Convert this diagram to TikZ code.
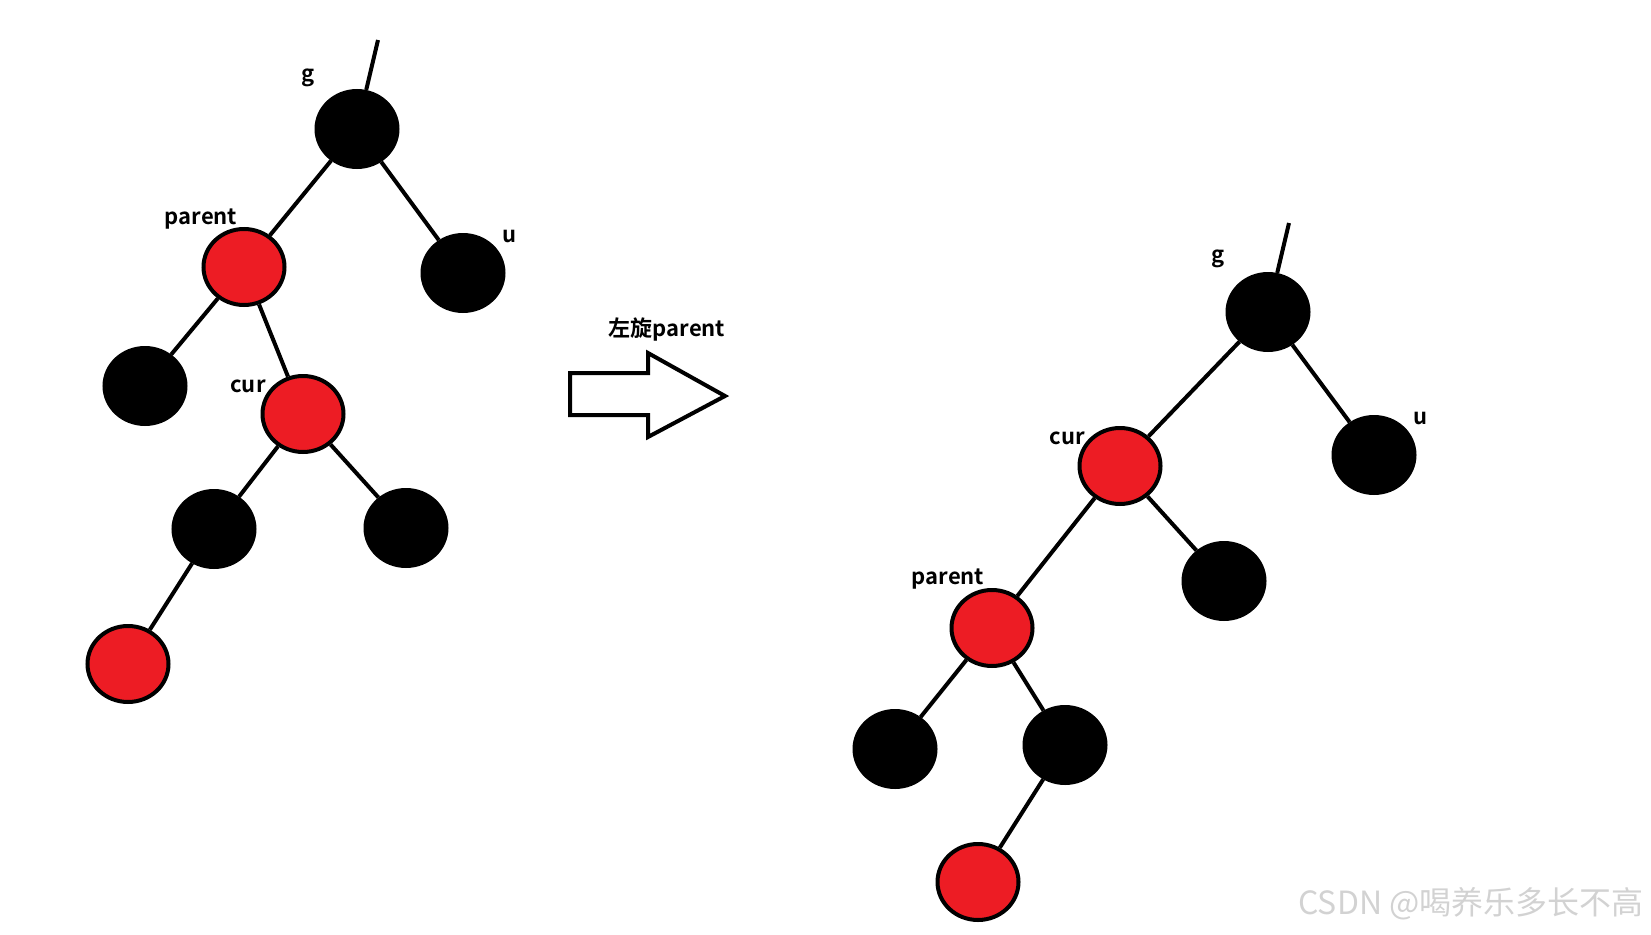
\documentclass[tikz,border=0pt]{standalone}
\usepackage{fontspec}
\setsansfont{Noto Sans CJK SC}[BoldFont={Noto Sans CJK SC Bold}]
\usepackage{tikz}
\usetikzlibrary{shapes.geometric}
\definecolor{rbred}{HTML}{ED1C24}
\definecolor{wmgray}{HTML}{D2D2D2}

\begin{document}
\begin{tikzpicture}[x=1pt, y=-1pt,
  rnd/.style={ellipse, draw=black, line width=4pt, fill=rbred,
              minimum width=81pt, minimum height=76pt, inner sep=0pt},
  bnd/.style={ellipse, draw=black, line width=4pt, fill=black,
              minimum width=81pt, minimum height=76pt, inner sep=0pt},
  lnk/.style={line width=4pt},
  lbl/.style={font=\sffamily\bfseries\fontsize{22}{24}\selectfont, inner sep=0pt}]
\useasboundingbox (0,0) rectangle (1651,934);
% before the rotation
\coordinate (top1) at (378,40);
\node[bnd] (g1) at (357,129) {};
\node[rnd] (p1) at (244,267) {};
\node[bnd] (u1) at (463,273) {};
\node[bnd] (s1) at (145,386) {};
\node[rnd] (c1) at (303,414) {};
\node[bnd] (cl1) at (214,529) {};
\node[bnd] (cr1) at (406,528) {};
\node[rnd] (leaf1) at (128,664) {};
\draw[lnk] (top1) -- (g1); \draw[lnk] (g1) -- (p1); \draw[lnk] (g1) -- (u1);
\draw[lnk] (p1) -- (s1); \draw[lnk] (p1) -- (c1);
\draw[lnk] (c1) -- (cl1); \draw[lnk] (c1) -- (cr1); \draw[lnk] (cl1) -- (leaf1);
\node[lbl] (gl1) at (308,78) {g};
\node[lbl] (pl1) at (201,219) {parent};
\node[lbl] (ul1) at (510,236) {u};
\node[lbl] (cul1) at (248,386) {cur};
% rotation arrow
\draw[line width=4pt, line join=miter] (570,373) -- (648,373) -- (648,353) -- (725,396)
  -- (648,437) -- (648,415) -- (570,415) -- cycle;
\node[lbl] (rot) at (667,330) {左旋parent};
% after the rotation
\coordinate (top2) at (1289,223);
\node[bnd] (g2) at (1268,312) {};
\node[rnd] (c2) at (1120,466) {};
\node[bnd] (u2) at (1374,455) {};
\node[bnd] (cr2) at (1224,581) {};
\node[rnd] (p2) at (992,628) {};
\node[bnd] (s2) at (895,749) {};
\node[bnd] (cl2) at (1065,745) {};
\node[rnd] (leaf2) at (978,882) {};
\draw[lnk] (top2) -- (g2); \draw[lnk] (g2) -- (c2); \draw[lnk] (g2) -- (u2);
\draw[lnk] (c2) -- (cr2); \draw[lnk] (c2) -- (p2);
\draw[lnk] (p2) -- (s2); \draw[lnk] (p2) -- (cl2); \draw[lnk] (cl2) -- (leaf2);
\node[lbl] (gl2) at (1218,259) {g};
\node[lbl] (ul2) at (1420,418) {u};
\node[lbl] (cul2) at (1067,438) {cur};
\node[lbl] (pl2) at (948,579) {parent};
% watermark
\node[font=\sffamily\fontsize{32}{34}\selectfont, text=wmgray, inner sep=0pt] (wm) at (1471,904) {CSDN @喝养乐多长不高};
\end{tikzpicture}
\end{document}
